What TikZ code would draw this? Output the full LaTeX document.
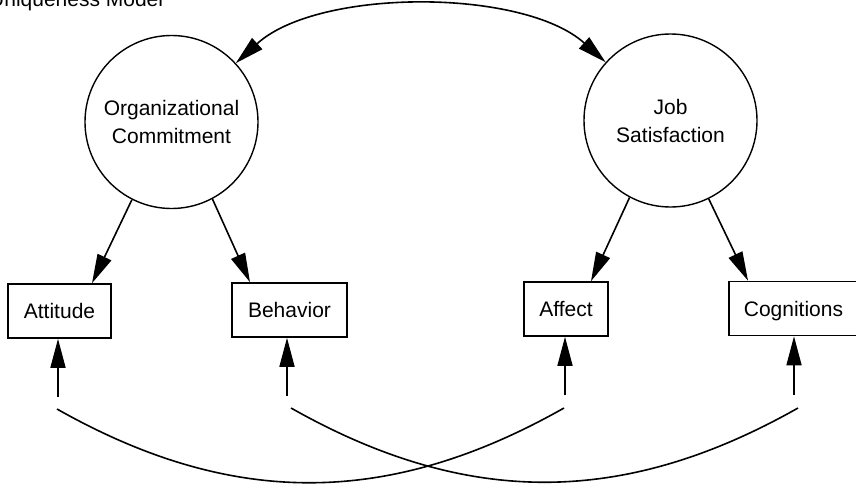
\documentclass[tikz,border=0pt]{standalone}
\usepackage{fontspec}
\setmainfont{Liberation Sans}
\usetikzlibrary{arrows.meta}
\begin{document}
\begin{tikzpicture}[x=1pt,y=-1pt,
  every node/.style={font=\fontsize{21}{28}\selectfont},
  line/.style={line width=1.6pt},
  tri/.style={line, -{Triangle[length=29pt,width=15pt]}},
  bitri/.style={line, {Triangle[length=29pt,width=15pt]}-{Triangle[length=29pt,width=15pt]}},
  latent/.style={circle, draw, line width=1.4pt, minimum size=173pt, inner sep=0pt, align=center},
  indicator/.style={rectangle, draw, line width=1.6pt, minimum height=54pt, inner sep=0pt,
    text height=15.5pt, text depth=0pt}]
\useasboundingbox (0,0) rectangle (856,485);

% title
\node[anchor=base west, inner sep=0pt] (title) at (-11,6) {Uniqueness Model};

% latent constructs
\node[latent] (oc) at (171.5,122) {Organizational\\Commitment};
\node[latent] (js) at (670.5,120.5) {Job\\Satisfaction};

% indicators
\node[indicator, minimum width=103pt] (att) at (59.5,311) {Attitude};
\node[indicator, minimum width=115pt] (beh) at (289.5,310) {Behavior};
\node[indicator, minimum width=84pt]  (aff) at (566,309) {Affect};
\node[indicator, minimum width=129pt] (cog) at (793.5,308.5) {Cognitions};

% correlation between the two constructs
\draw[bitri] (oc) .. controls (318,-12) and (523,-12) .. (js);

% loadings
\draw[tri] (oc.243) -- ([xshift=32.5pt]att.north);
\draw[tri] (oc.298) -- ([xshift=-39.5pt]beh.north);
\draw[tri] (js.242) -- ([xshift=25pt]aff.north);
\draw[tri] (js.296) -- ([xshift=-45.5pt]cog.north);

% error terms
\coordinate (attin) at (58,397);
\coordinate (behin) at (287,396);
\coordinate (affin) at (565,395);
\coordinate (cogin) at (794,395);
\draw[tri] (attin) -- (attin |- att.south);
\draw[tri] (behin) -- (behin |- beh.south);
\draw[tri] (affin) -- (affin |- aff.south);
\draw[tri] (cogin) -- (cogin |- cog.south);

% correlated errors
\coordinate (e1a) at (57,409);
\coordinate (e1b) at (564,408);
\coordinate (e2a) at (291,408);
\coordinate (e2b) at (798,408);
\draw[line] (e1a) .. controls (232,508) and (389,507) .. (e1b);
\draw[line] (e2a) .. controls (466,507) and (623,507) .. (e2b);
\end{tikzpicture}
\end{document}
